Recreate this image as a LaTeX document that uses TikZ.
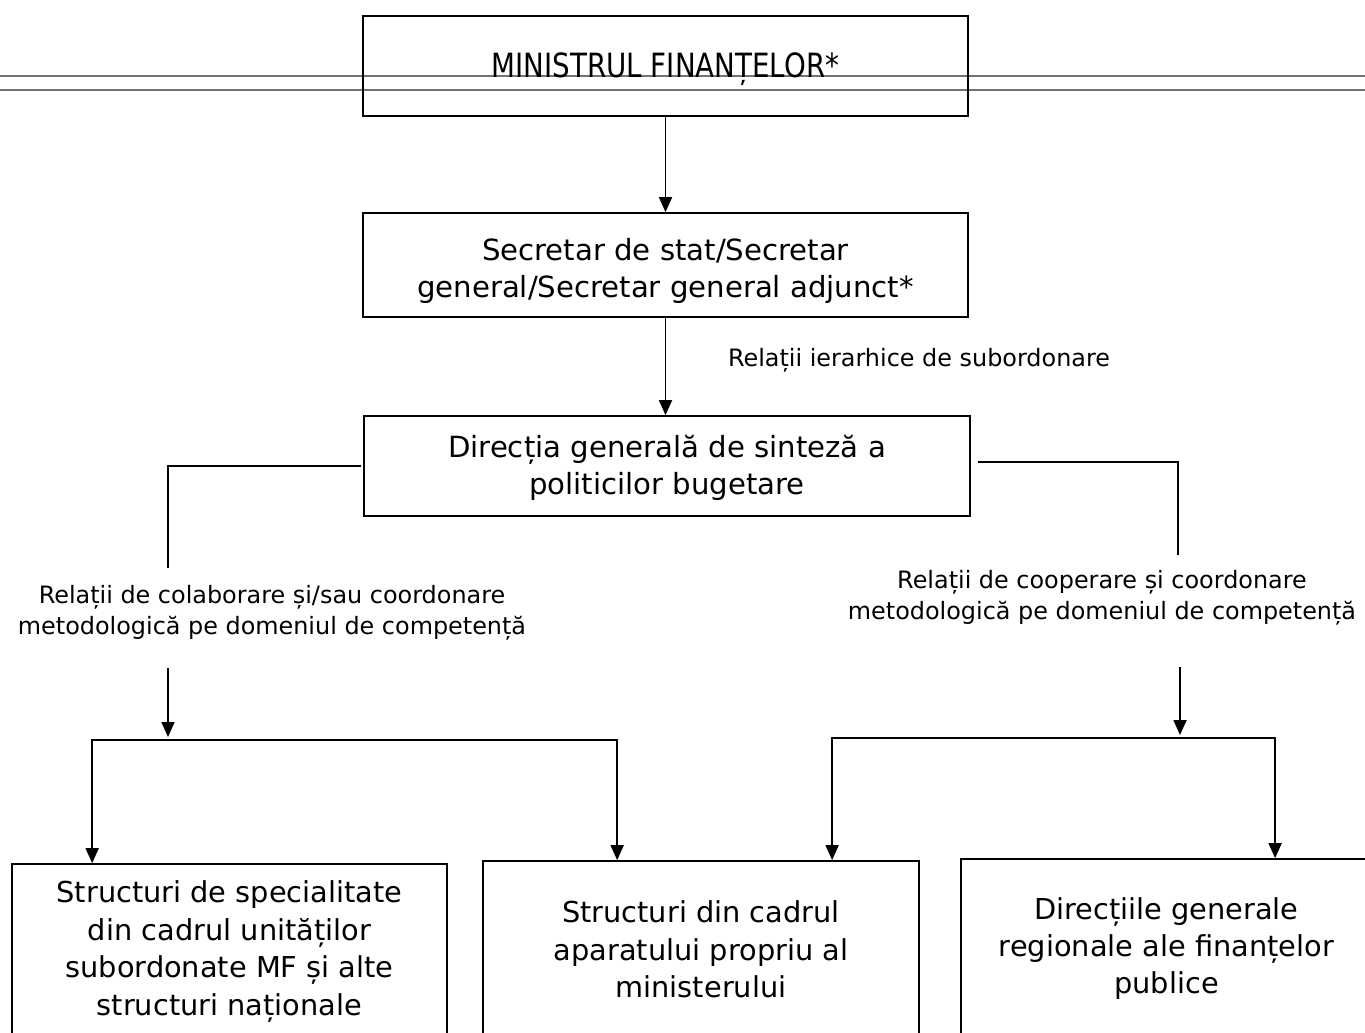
\documentclass[tikz,border=0pt]{standalone}
\usepackage{fontspec}
\setmainfont{DejaVu Sans}
\usetikzlibrary{positioning,arrows.meta}

\begin{document}
\begin{tikzpicture}[x=0.02cm, y=-0.02cm,
    % box and text styles
    box/.style={draw=black, line width=1pt, align=center, inner sep=0pt,
                font=\fontsize{16.6}{21}\selectfont},
    lowbox/.style={box, font=\fontsize{16.4}{21.3}\selectfont},
    relation/.style={align=center, font=\fontsize{13.6}{17.6}\selectfont},
    link/.style={line width=1pt},
    arr/.style={link, -{Triangle[width=0.26cm, length=0.3cm]}},
    rule/.style={draw=black!55, line width=0.8pt},
]
\clip (0,0) rectangle (1365,1033);

% page rules behind the top box
\draw[rule] (0,76) -- (1365,76);
\draw[rule] (0,90) -- (1365,90);

% hierarchy boxes
\node[box, minimum width=12.1cm, minimum height=2cm] (min) at (665.5,66)
    {\raisebox{-0.06cm}[\height][\depth]{\scalebox{0.83}[1]{\fontsize{19}{21}\selectfont MINISTRUL FINANȚELOR*}}};
\node[box, minimum width=12.1cm, minimum height=2.08cm] (sec) at (665.5,265)
    {\raisebox{-0.14cm}[\height][\depth]{\begin{tabular}{@{}c@{}}Secretar de stat/Secretar\\general/Secretar general adjunct*\end{tabular}}};
\node[box, minimum width=12.12cm, minimum height=2cm] (dgs) at (667,466)
    {\raisebox{-0.06cm}[\height][\depth]{\begin{tabular}{@{}c@{}}Direcția generală de sinteză a\\politicilor bugetare\end{tabular}}};

% bottom boxes (cut by the page edge)
\node[lowbox, minimum width=8.7cm, minimum height=3.5cm] (bl) at (229.5,951.5)
    {Structuri de specialitate\\din cadrul unităților\\subordonate MF și alte\\structuri naționale};
\node[lowbox, minimum width=8.72cm, minimum height=3.54cm] (bm) at (701,949.5)
    {Structuri din cadrul\\aparatului propriu al\\ministerului};
\node[lowbox, minimum width=8.22cm, minimum height=3.58cm] (br) at (1166.5,948.5)
    {Direcțiile generale\\regionale ale finanțelor\\publice};

% relation labels
\node[relation] (relTop) at (919,360) {Relații ierarhice de subordonare};
\node[relation] (relL) at (272,613) {Relații de colaborare și/sau coordonare\\metodologică pe domeniul de competență};
\node[relation] (relR) at (1102,598) {Relații de cooperare și coordonare\\metodologică pe domeniul de competență};

% branch points
\coordinate (lbend) at (168,568);
\coordinate (lfrom) at (168,668);
\coordinate (lsplit) at (168,740);
\coordinate (rbend) at (1178,555);
\coordinate (rfrom) at (1180,667);
\coordinate (rsplit) at (1180,738);

% vertical chain
\draw[arr] (min.south) -- (sec.north);
\draw[arr] (sec.south) -- (sec.south |- dgs.north);

% left branch
\draw[link] ([xshift=-0.04cm]dgs.west) -| (lbend);
\draw[arr] (lfrom) -- ([yshift=0.06cm]lsplit);
\draw[arr] (lsplit) -| ([xshift=1.62cm]bl.north west);
\draw[arr] (lsplit) -| ([xshift=2.7cm]bm.north west);

% right branch
\draw[link] ([xshift=0.14cm,yshift=0.08cm]dgs.east) -| (rbend);
\draw[arr] (rfrom) -- ([yshift=0.06cm]rsplit);
\draw[arr] (rsplit) -| ([xshift=7cm]bm.north west);
\draw[arr] (rsplit) -| ([xshift=6.3cm]br.north west);

\end{tikzpicture}
\end{document}
